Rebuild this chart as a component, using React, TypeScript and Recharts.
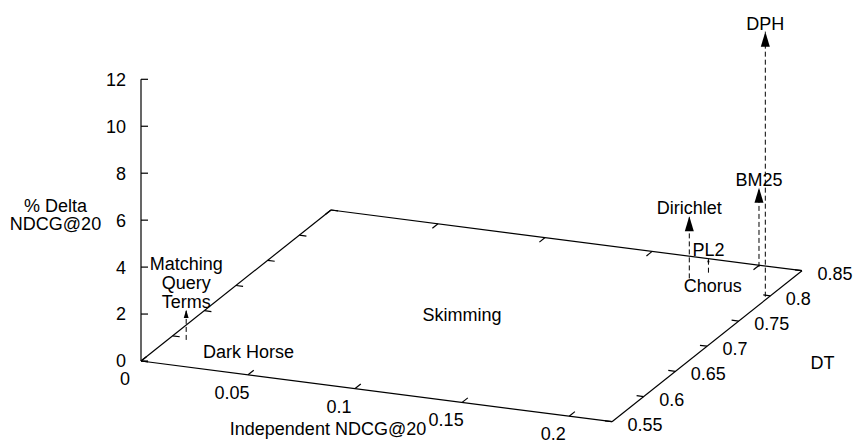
import React from 'react';
import { ScatterChart, XAxis, YAxis, ReferenceLine, Scatter } from 'recharts';

// ---- axis ranges and ticks ----
const ndcgRange: [number, number] = [0, 0.22];
const dtRange: [number, number] = [0.55, 0.85];
const deltaRange: [number, number] = [0, 12];
const ndcgTicks = [0, 0.05, 0.1, 0.15, 0.2];
const dtTicks = [0.55, 0.6, 0.65, 0.7, 0.75, 0.8, 0.85];
const deltaTicks = [0, 2, 4, 6, 8, 10, 12];

// ---- systems (label, Independent NDCG@20, DT, % Delta NDCG@20) ----
const systemLabels = ['Matching\nQuery\nTerms', 'Dirichlet', 'PL2', 'BM25', 'DPH', 'Chorus', 'Dark Horse', 'Skimming'];
const systemNdcg = [0.0075, 0.1786, 0.1834, 0.2008, 0.2184, 0.1958, 0.0427, 0.1098];
const systemDt = [0.596, 0.812, 0.826, 0.847, 0.7975, 0.791, 0.5754, 0.6857];
// null: below the plotted z range (no arrow drawn)
const systemDelta: (number | null)[] = [1.28, 2.65, 0.61, 3.37, 11.29, null, null, null];

const titleX = 'Independent NDCG@20';
const titleY = 'DT';
const titleZ = '% Delta\nNDCG@20';

// ---- view (projection of the 3D box onto the page) ----
const VIEW = { ndcgSpan: [471, -60.7], dtSpan: [190, 151], deltaSpan: 281.7 };
const FONT = '"Liberation Sans", Arial, Helvetica, sans-serif';

const project = (n: number, d: number, z: number) => {
  const a = (n - ndcgRange[0]) / (ndcgRange[1] - ndcgRange[0]);
  const b = (d - dtRange[0]) / (dtRange[1] - dtRange[0]);
  const c = (z - deltaRange[0]) / (deltaRange[1] - deltaRange[0]);
  return {
    u: a * VIEW.ndcgSpan[0] + b * VIEW.dtSpan[0],
    v: a * VIEW.ndcgSpan[1] + b * VIEW.dtSpan[1] + c * VIEW.deltaSpan,
  };
};

type Seg = { p1: { u: number; v: number }; p2: { u: number; v: number }; dashed?: boolean };
const segs: Seg[] = [];
const [n0, n1] = ndcgRange;
const [d0, d1] = dtRange;
// base plane
segs.push({ p1: project(n0, d0, 0), p2: project(n1, d0, 0) });
segs.push({ p1: project(n1, d0, 0), p2: project(n1, d1, 0) });
segs.push({ p1: project(n1, d1, 0), p2: project(n0, d1, 0) });
segs.push({ p1: project(n0, d1, 0), p2: project(n0, d0, 0) });
// z axis
segs.push({ p1: project(n0, d0, deltaRange[0]), p2: project(n0, d0, deltaRange[1]) });
// ticks
const dtTickLen = 0.009;
const ndcgTickLen = 0.0033;
ndcgTicks.forEach((t) => {
  segs.push({ p1: project(t, d0, 0), p2: project(t, d0 + dtTickLen, 0) });
  segs.push({ p1: project(t, d1, 0), p2: project(t, d1 - dtTickLen, 0) });
});
dtTicks.forEach((t) => {
  segs.push({ p1: project(n1, t, 0), p2: project(n1 - ndcgTickLen, t, 0) });
  segs.push({ p1: project(n0, t, 0), p2: project(n0 + ndcgTickLen, t, 0) });
});
deltaTicks.forEach((t) => {
  const p = project(n0, d0, t);
  segs.push({ p1: p, p2: { u: p.u + 7, v: p.v } });
});
// arrows (dashed stems)
const arrowTips: { u: number; v: number; len: number }[] = [];
systemLabels.forEach((_, i) => {
  const z = systemDelta[i];
  if (z !== null && z > 0) {
    const base = project(systemNdcg[i], systemDt[i], 0);
    const tip = project(systemNdcg[i], systemDt[i], z);
    segs.push({ p1: base, p2: tip, dashed: true });
    arrowTips.push({ u: tip.u, v: tip.v, len: tip.v - base.v });
  }
});

type TextItem = { u: number; v: number; text: string; dx: number; dy: number; anchor: string; lh?: number };
const texts: TextItem[] = [];
deltaTicks.forEach((t) => {
  const p = project(n0, d0, t);
  texts.push({ ...p, text: String(t), dx: -15, dy: 6.4, anchor: 'end' });
});
ndcgTicks.forEach((t) => {
  const p = project(t, d0, 0);
  texts.push({ ...p, text: String(t), dx: -16, dy: 24, anchor: 'middle' });
});
dtTicks.forEach((t) => {
  const p = project(n1, t, 0);
  texts.push({ ...p, text: String(t), dx: 15.5, dy: 9, anchor: 'start' });
});
systemLabels.forEach((label, i) => {
  const z = systemDelta[i];
  const p = project(systemNdcg[i], systemDt[i], z !== null && z > 0 ? z : 0);
  texts.push({ ...p, text: label, dx: 0, dy: -2, anchor: 'middle', lh: 19 });
});
texts.push({ ...project(n0, d0, 6), text: titleZ, dx: -85.5, dy: 9.5, anchor: 'middle', lh: 17.5 });
texts.push({ ...project((n0 + n1) / 2, d0, 0), text: titleX, dx: -48.5, dy: 44, anchor: 'middle' });
texts.push({ ...project(n1, (d0 + d1) / 2, 0), text: titleY, dx: 115.5, dy: 23, anchor: 'middle' });

const TextMark = (props: any) => {
  const { cx, cy, payload } = props;
  if (cx == null || cy == null) return null;
  const lines = String(payload.text).split('\n');
  const lh = payload.lh ?? 19;
  const x = cx + payload.dx;
  const yLast = cy + payload.dy;
  return (
    <text x={x} textAnchor={payload.anchor} fontFamily={FONT} fontSize={18} fill="#000">
      {lines.map((l: string, i: number) => (
        <tspan key={i} x={x} y={yLast - (lines.length - 1 - i) * lh}>
          {l}
        </tspan>
      ))}
    </text>
  );
};

const ArrowHead = (props: any) => {
  const { cx, cy, payload } = props;
  if (cx == null || cy == null) return null;
  const L = Math.min(15, payload.len * 0.27);
  const w = L * 0.3;
  return <polygon points={`${cx},${cy} ${cx - w},${cy + L} ${cx + w},${cy + L}`} fill="#000" />;
};

export default function App() {
  return (
    <div style={{ position: 'absolute', left: 0, top: 0, background: '#fff' }}>
      <ScatterChart width={853} height={440} margin={{ top: 0, right: 0, bottom: 0, left: 0 }}>
        <XAxis type="number" dataKey="u" domain={[-141, 712]} hide allowDataOverflow />
        <YAxis type="number" dataKey="v" domain={[-79, 361]} hide allowDataOverflow />
        {segs.map((s, i) => (
          <ReferenceLine
            key={i}
            segment={[{ x: s.p1.u, y: s.p1.v }, { x: s.p2.u, y: s.p2.v }]}
            stroke="#000"
            strokeWidth={s.dashed ? 1 : 1.2}
            strokeDasharray={s.dashed ? '5 3' : undefined}
            ifOverflow="visible"
          />
        ))}
        <Scatter data={arrowTips} shape={ArrowHead} isAnimationActive={false} />
        <Scatter data={texts} shape={TextMark} isAnimationActive={false} />
      </ScatterChart>
    </div>
  );
}
